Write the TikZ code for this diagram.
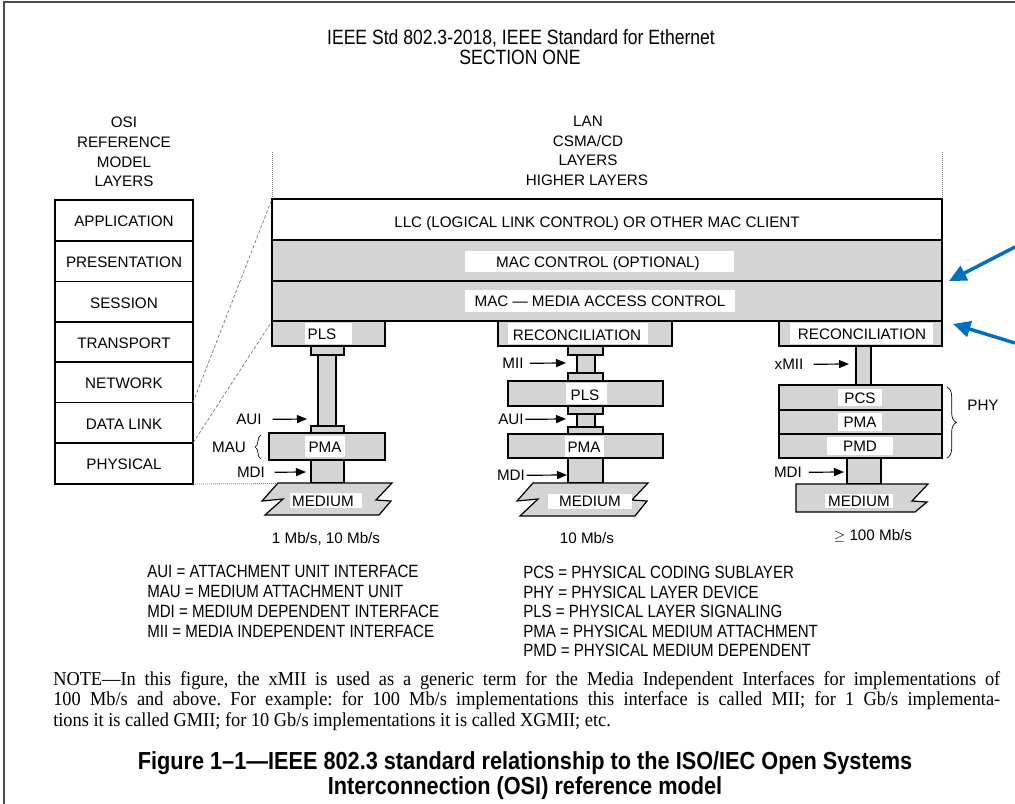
\documentclass[tikz,border=0pt]{standalone}
\usepackage{fontspec}
\setmainfont{Liberation Sans}
\newfontfamily\notefamily[FakeStretch=0.93]{Liberation Serif}
\newfontfamily\condensed[FakeStretch=0.85]{Liberation Sans}
\newfontfamily\condensedb[FakeStretch=0.88]{Liberation Sans}
\usetikzlibrary{arrows.meta,decorations.pathreplacing}
\definecolor{layergray}{gray}{0.83}
\definecolor{callout}{RGB}{0,112,192}
\newcommand\labelfont{\fontsize{11.4}{13}\selectfont}
\newcommand\legendfont{\condensed\fontsize{13.3}{15}\selectfont}
\newcommand\headfont{\condensed\fontsize{15.5}{18}\selectfont}
\newcommand\notefont{\notefamily\fontsize{14.8}{15.4}\selectfont}
\newcommand\captionfont{\condensedb\bfseries\fontsize{18.5}{22}\selectfont}
\frenchspacing
% medium symbol: broken parallelogram, top-left x, top-right x, top y, bottom y
\newcommand\mediumsym[4]{%
  \draw[shaded] (#1,#3) -- (#1-16,#3+18) -- (#1+5,#3+16) -- (#1-13,#4)
    -- (#2-13,#4) -- (#2-1,#3+18) -- (#2-16,#3+17) -- (#2,#3) -- cycle;}
\begin{document}
\begin{tikzpicture}[x=0.75pt,y=-0.75pt,
  lbl/.style={font=\labelfont, inner sep=0pt, anchor=base, yshift=-4.1pt},
  lgd/.style={font=\legendfont, inner sep=0pt, anchor=base west, yshift=-4.75pt},
  hd/.style={font=\headfont, inner sep=0pt, anchor=base, yshift=-5.55pt},
  figcaption/.style={font=\captionfont, inner sep=0pt, anchor=base, yshift=-6.6pt},
  noteline/.style={font=\notefont, inner sep=0pt, anchor=base west},
  outline/.style={draw=black, line width=0.9pt},
  shaded/.style={outline, fill=layergray},
  blank/.style={outline, fill=white},
  tag/.style={fill=white},
  ptr/.style={-{Triangle[length=7.5pt,width=6pt]}, line width=0.9pt},
  bluepointer/.style={draw=callout, line width=2.6pt, -{Triangle[length=13pt,width=12pt]}},
  guide/.style={draw=black!55, line width=0.5pt, dash pattern=on 2.5pt off 1.5pt},
  dotline/.style={draw=black!50, line width=0.6pt, dash pattern=on 0.6pt off 0.9pt},
  bracemark/.style={draw=black, line width=0.5pt, decorate}]
\useasboundingbox (0,0) rectangle (1015,804);
\fill[white] (0,0) rectangle (1015,804);

% page frame
\draw[line width=1.5pt, black!70] (4,804) -- (4,1.5) -- (1015,1.5);

% running head
\node[hd] (head1) at (521,37) {IEEE Std 802.3-2018, IEEE Standard for Ethernet};
\node[hd] (head2) at (520,57) {SECTION ONE};

% OSI reference model column
\node[lbl] (osiA) at (124,122) {OSI};
\node[lbl] (osiB) at (124,142) {REFERENCE};
\node[lbl] (osiC) at (124,162) {MODEL};
\node[lbl] (osiD) at (124,181) {LAYERS};
\foreach \top/\bot/\name/\txt in {200/241/app/APPLICATION, 241/281.5/pres/PRESENTATION,
    281.5/322/sess/SESSION, 322/362/trans/TRANSPORT, 362/402.5/net/NETWORK,
    402.5/443/dlink/DATA LINK, 443/484/phys/PHYSICAL}{
  \draw[blank] (55,\top) rectangle (193,\bot);
  \node[lbl] (\name) at (124,{(\top+\bot)/2+1}) {\txt};
}

% LAN CSMA/CD heading
\node[lbl] (lanA) at (588,121) {LAN};
\node[lbl] (lanB) at (588,141) {CSMA/CD};
\node[lbl] (lanC) at (588,160) {LAYERS};
\node[lbl] (lanD) at (587,180) {HIGHER LAYERS};
\draw[dotline] (272,152) -- (272,199);
\draw[dotline] (942,152) -- (942,199);

% common upper layers
\draw[blank] (272,199) rectangle (942,240);
\draw[shaded] (272,240) rectangle (942,281);
\draw[shaded] (272,281) rectangle (942,321);
\fill[tag] (465,251) rectangle (734,272);
\fill[tag] (465,290) rectangle (735,312);
\node[lbl] (llc) at (597,222) {LLC (LOGICAL LINK CONTROL) OR OTHER MAC CLIENT};
\node[lbl] (macctl) at (598,262) {MAC CONTROL (OPTIONAL)};
\node[lbl] (mac) at (600,301) {MAC — MEDIA ACCESS CONTROL};

% mapping guides from the OSI column
\draw[guide] (193,402.5) -- (272,199);
\draw[guide] (193,443) -- (272,321);
\draw[dotline] (193,484) -- (278,483.5);

% ---- 1 Mb/s, 10 Mb/s stack
\draw[shaded] (272,321) rectangle (385,346);
\fill[tag] (305,323) rectangle (352,344);
\node[lbl] (pls1) at (322,334) {PLS};
\draw[shaded] (311,346) rectangle (344,355);
\draw[shaded] (318,355) rectangle (336,426);
\draw[shaded] (311,426) rectangle (344,433);
\draw[shaded] (269,433) rectangle (385,460);
\fill[tag] (305,436) rectangle (345,457);
\node[lbl] (pma1) at (325,447) {PMA};
\draw[shaded] (311,460) rectangle (344,483);
\mediumsym{278}{392}{483}{515}
\fill[tag] (290,493) rectangle (362,508);
\node[lbl] (med1) at (323,501) {MEDIUM};
\node[lbl] (aui1) at (249,419) {AUI};
\draw[ptr] ([xshift=8pt]aui1.east) -- (307,419);
\node[lbl] (mau1) at (229,447) {MAU};
\draw[bracemark, decoration={brace, amplitude=4.5pt}] (261,459) -- (261,435);
\node[lbl] (mdi1) at (251,472) {MDI};
\draw[ptr] ([xshift=7pt]mdi1.east) -- (306,472);
\node[lbl] (rate1) at (326,538) {1 Mb/s, 10 Mb/s};

% ---- 10 Mb/s stack
\draw[shaded] (498,321) rectangle (672,346);
\fill[tag] (508,323) rectangle (648,344);
\node[lbl] (rec2) at (577,335) {RECONCILIATION};
\draw[shaded] (568,346) rectangle (603,355);
\draw[shaded] (577,355) rectangle (595,373);
\draw[shaded] (568,373) rectangle (603,381);
\draw[shaded] (508,381) rectangle (663,406);
\fill[tag] (566,383) rectangle (607,404);
\node[lbl] (pls2) at (585,395) {PLS};
\draw[shaded] (568,406) rectangle (603,414);
\draw[shaded] (577,414) rectangle (595,427);
\draw[shaded] (568,427) rectangle (603,434);
\draw[shaded] (508,434) rectangle (663,458);
\fill[tag] (565,436) rectangle (604,457);
\node[lbl] (pma2) at (584,447) {PMA};
\draw[shaded] (568,458) rectangle (603,483);
\mediumsym{533}{648}{483}{516}
\fill[tag] (548,494) rectangle (632,509);
\node[lbl] (med2) at (590,501) {MEDIUM};
\node[lbl] (mii2) at (513,363) {MII};
\draw[ptr] ([xshift=4.5pt]mii2.east) -- (566,363);
\node[lbl] (aui2) at (511,419) {AUI};
\draw[ptr] ([xshift=1pt]aui2.east) -- (566,419);
\node[lbl] (mdi2) at (511,475) {MDI};
\draw[ptr] ([xshift=1pt]mdi2.east) -- (567,475);
\node[lbl] (rate2) at (587,538) {10 Mb/s};

% ---- 100 Mb/s and above stack
\draw[shaded] (779,321) rectangle (942,346);
\fill[tag] (790,323) rectangle (933,344);
\node[lbl] (rec3) at (862,334) {RECONCILIATION};
\draw[shaded] (856,346) rectangle (871,385);
\draw[shaded] (779,385) rectangle (942,410);
\draw[shaded] (779,410) rectangle (942,434);
\draw[shaded] (779,434) rectangle (942,458);
\fill[tag] (838,389) rectangle (882,406);
\fill[tag] (838,413) rectangle (882,431);
\fill[tag] (827,437) rectangle (893,455);
\node[lbl] (pcs3) at (860,398) {PCS};
\node[lbl] (pma3) at (860,422) {PMA};
\node[lbl] (pmd3) at (860,446) {PMD};
\draw[shaded] (847,458) rectangle (881,484);
\draw[shaded] (796,484) -- (796,512) -- (915,512) -- (927,502) -- (912,501) -- (928,484) -- cycle;
\fill[tag] (825,494) rectangle (893,508);
\node[lbl] (med3) at (859,501) {MEDIUM};
\node[lbl] (xmii3) at (789,364) {xMII};
\draw[ptr] ([xshift=7.5pt]xmii3.east) -- (849,364);
\node[lbl] (mdi3) at (788,472) {MDI};
\draw[ptr] ([xshift=5pt]mdi3.east) -- (844,472);
\draw[bracemark, decoration={brace, amplitude=7pt}] (947,387) -- (947,458);
\node[lbl] (phy3) at (983,405) {PHY};
\node[lbl] (rate3) at (873,535) {$\geq$ 100 Mb/s};

% callout arrows
\coordinate (calloutA) at (1015,247);
\coordinate (calloutB) at (1015,343);
\draw[bluepointer] (calloutA) -- (949,281);
\draw[bluepointer] (calloutB) -- (953,324);

% abbreviations
\node[lgd] (abA) at (147,571) {AUI = ATTACHMENT UNIT INTERFACE};
\node[lgd] (abB) at (147,591) {MAU = MEDIUM ATTACHMENT UNIT};
\node[lgd] (abC) at (147,611) {MDI = MEDIUM DEPENDENT INTERFACE};
\node[lgd] (abD) at (147,631) {MII = MEDIA INDEPENDENT INTERFACE};
\node[lgd] (abE) at (523,572) {PCS = PHYSICAL CODING SUBLAYER};
\node[lgd] (abF) at (523,592) {PHY = PHYSICAL LAYER DEVICE};
\node[lgd] (abG) at (523,611) {PLS = PHYSICAL LAYER SIGNALING};
\node[lgd] (abH) at (523,631) {PMA = PHYSICAL MEDIUM ATTACHMENT};
\node[lgd] (abI) at (523,650) {PMD = PHYSICAL MEDIUM DEPENDENT};

% note
\node[noteline] (noteA) at (53,685) {\makebox[710.25pt][s]{NOTE—In this figure, the xMII is used as a generic term for the Media Independent Interfaces for implementations of}};
\node[noteline] (noteB) at (53,705.5) {\makebox[710.25pt][s]{100 Mb/s and above. For example: for 100 Mb/s implementations this interface is called MII; for 1 Gb/s implementa-}};
\node[noteline] (noteC) at (53,726) {tions it is called GMII; for 10 Gb/s implementations it is called XGMII; etc.};

% caption
\node[figcaption] (capA) at (525,761) {Figure 1–1—IEEE 802.3 standard relationship to the ISO/IEC Open Systems};
\node[figcaption] (capB) at (525,786) {Interconnection (OSI) reference model};
\end{tikzpicture}
\end{document}
